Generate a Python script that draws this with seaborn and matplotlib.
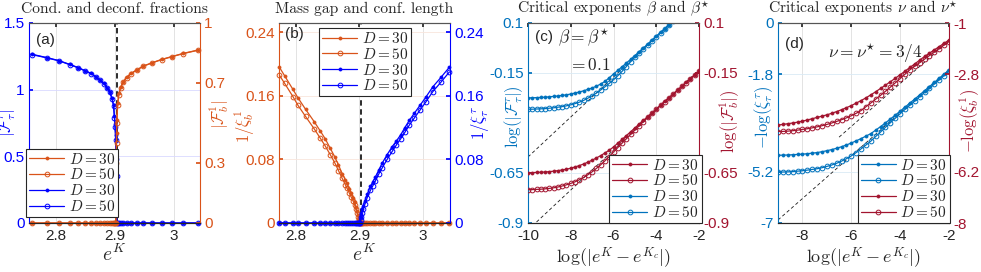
import matplotlib
matplotlib.use("Agg")
import matplotlib.pyplot as plt
import seaborn as sns

# ---------------- panel (a): order parameters vs e^K ----------------
EK_A = [2.760, 2.785, 2.805, 2.823, 2.838, 2.849, 2.859, 2.867, 2.874, 2.881,
        2.887, 2.891, 2.895, 2.8975, 2.899, 2.900, 2.901, 2.9015,
        2.9025, 2.903, 2.9045, 2.9065, 2.9095, 2.914, 2.9195, 2.927, 2.9365,
        2.948, 2.962, 2.979, 2.996, 3.0155, 3.041]
FTAU_A_D30 = [1.265, 1.240, 1.218, 1.190, 1.165, 1.143, 1.123, 1.098, 1.073, 1.048,
              1.015, 0.985, 0.935, 0.885, 0.800, 0.740, 0.660, 0.550,
              0, 0, 0, 0, 0, 0, 0, 0, 0, 0, 0, 0, 0, 0, 0]
FTAU_A_D50 = [1.262, 1.238, 1.216, 1.188, 1.163, 1.141, 1.121, 1.096, 1.071, 1.046,
              1.012, 0.982, 0.930, 0.878, 0.790, 0.720, 0.620, 0.480,
              0.350, 0, 0, 0, 0, 0, 0, 0, 0, 0, 0, 0, 0, 0, 0]
FB_A_D30 = [0, 0, 0, 0, 0, 0, 0, 0, 0, 0, 0, 0, 0, 0, 0, 0, 0, 0,
            0.450, 0.515, 0.600, 0.648, 0.680, 0.707, 0.728, 0.748, 0.765,
            0.785, 0.800, 0.818, 0.832, 0.848, 0.865]
FB_A_D50 = [0, 0, 0, 0, 0, 0, 0, 0, 0, 0, 0, 0, 0, 0, 0, 0, 0, 0.300,
            0.400, 0.500, 0.590, 0.642, 0.676, 0.704, 0.726, 0.746, 0.764,
            0.784, 0.800, 0.817, 0.831, 0.847, 0.864]

# ---------------- panel (b): inverse lengths vs e^K ----------------
EK_B = [2.7735, 2.782, 2.795, 2.803, 2.815, 2.829, 2.838, 2.846, 2.854, 2.861,
        2.867, 2.873, 2.878, 2.8805, 2.884, 2.887, 2.890, 2.8925, 2.8945, 2.8965,
        2.898, 2.899, 2.900, 2.901,
        2.902, 2.903, 2.9045, 2.9065, 2.909, 2.9125, 2.9175, 2.9215, 2.9255, 2.931,
        2.936, 2.944, 2.952, 2.9585, 2.9655, 2.972, 2.979, 2.987, 2.996, 3.005,
        3.016, 3.029, 3.0425]
ZEROS_R = [0] * 23
ZEROS_L = [0] * 24
INVXI_B_D30 = [0.196, 0.185, 0.168, 0.1574, 0.143, 0.127, 0.116, 0.106, 0.094, 0.0835,
               0.073, 0.062, 0.054, 0.050, 0.043, 0.0376, 0.032, 0.027, 0.020, 0.0145,
               0.010, 0.006, 0.003, 0.001] + ZEROS_R
INVXI_B_D50 = [0.186, 0.1755, 0.159, 0.148, 0.134, 0.118, 0.107, 0.097, 0.086, 0.076,
               0.066, 0.056, 0.048, 0.044, 0.038, 0.033, 0.028, 0.023, 0.017, 0.012,
               0.008, 0.005, 0.002, 0.0005] + ZEROS_R
INVXI_T_D30 = ZEROS_L + [0.007, 0.011, 0.017, 0.022, 0.028, 0.036, 0.046, 0.052, 0.058,
                         0.067, 0.075, 0.086, 0.096, 0.103, 0.111, 0.120, 0.129, 0.138,
                         0.148, 0.158, 0.171, 0.183, 0.196]
INVXI_T_D50 = ZEROS_L + [0.004, 0.008, 0.013, 0.018, 0.024, 0.032, 0.041, 0.047, 0.053,
                         0.062, 0.069, 0.080, 0.090, 0.098, 0.106, 0.114, 0.123, 0.132,
                         0.142, 0.152, 0.165, 0.177, 0.190]

# ---------------- panel (c): log order parameters ----------------
LOGD_C = [-10.0, -9.8, -9.6, -9.4, -9.2, -9.0, -8.8, -8.6, -8.4, -8.2,
          -8.0, -7.8, -7.6, -7.4, -7.2, -7.0, -6.8, -6.6, -6.4, -6.2,
          -6.0, -5.8, -5.6, -5.4, -5.2, -5.0, -4.8, -4.6, -4.4, -4.2,
          -4.0, -3.8, -3.6, -3.4, -3.2, -3.0, -2.8, -2.6, -2.4, -2.2, -2.0]
LOGF_TAU_D30 = [-0.274, -0.274, -0.273, -0.272, -0.271, -0.269, -0.267, -0.265, -0.262, -0.259,
                -0.255, -0.250, -0.245, -0.239, -0.232, -0.225, -0.216, -0.205, -0.192, -0.174,
                -0.155, -0.137, -0.119, -0.100, -0.082, -0.063, -0.044, -0.025, -0.006, 0.014,
                0.033, 0.053, 0.072, 0.092, 0.112, 0.132, 0.152, 0.172, 0.192, 0.212, 0.232]
LOGF_TAU_D50 = [-0.331, -0.331, -0.330, -0.329, -0.328, -0.326, -0.324, -0.321, -0.318, -0.314,
                -0.309, -0.303, -0.296, -0.287, -0.276, -0.264, -0.250, -0.235, -0.219, -0.202,
                -0.184, -0.164, -0.142, -0.118, -0.094, -0.071, -0.049, -0.028, -0.008, 0.012,
                0.032, 0.052, 0.071, 0.091, 0.111, 0.131, 0.151, 0.171, 0.191, 0.211, 0.231]
LOGF_B_D30 = [-0.648, -0.648, -0.647, -0.646, -0.645, -0.643, -0.641, -0.638, -0.635, -0.631,
              -0.626, -0.620, -0.613, -0.605, -0.596, -0.586, -0.575, -0.563, -0.550, -0.536,
              -0.520, -0.501, -0.482, -0.463, -0.444, -0.425, -0.406, -0.387, -0.368, -0.349,
              -0.330, -0.311, -0.292, -0.273, -0.254, -0.235, -0.216, -0.197, -0.178, -0.159, -0.140]
LOGF_B_D50 = [-0.733, -0.733, -0.732, -0.731, -0.729, -0.727, -0.724, -0.720, -0.715, -0.709,
              -0.702, -0.694, -0.684, -0.672, -0.659, -0.644, -0.627, -0.609, -0.589, -0.568,
              -0.545, -0.523, -0.501, -0.479, -0.457, -0.435, -0.414, -0.393, -0.372, -0.352,
              -0.332, -0.312, -0.293, -0.274, -0.255, -0.236, -0.217, -0.198, -0.179, -0.160, -0.141]

# ---------------- panel (d): log correlation lengths ----------------
LOGD_D = [-9.0, -8.8, -8.6, -8.4, -8.2, -8.0, -7.8, -7.6, -7.4, -7.2,
          -7.0, -6.8, -6.6, -6.4, -6.2, -6.0, -5.8, -5.6, -5.4, -5.2,
          -5.0, -4.8, -4.6, -4.4, -4.2, -4.0, -3.8, -3.6, -3.4, -3.2,
          -3.0, -2.8, -2.6, -2.4, -2.2, -2.0]
MLOGXI_TAU_D30 = [-4.630, -4.625, -4.620, -4.610, -4.600, -4.590, -4.575, -4.555, -4.535, -4.505,
                  -4.470, -4.430, -4.385, -4.330, -4.270, -4.200, -4.125, -4.045, -3.960, -3.870,
                  -3.750, -3.625, -3.495, -3.360, -3.225, -3.085, -2.945, -2.800, -2.660, -2.515,
                  -2.370, -2.225, -2.080, -1.935, -1.790, -1.645]
MLOGXI_TAU_D50 = [-5.220, -5.215, -5.210, -5.200, -5.185, -5.170, -5.150, -5.125, -5.100, -5.065,
                  -5.020, -4.970, -4.910, -4.835, -4.750, -4.650, -4.535, -4.405, -4.270, -4.135,
                  -3.970, -3.815, -3.650, -3.490, -3.335, -3.175, -3.025, -2.875, -2.730, -2.580,
                  -2.430, -2.285, -2.135, -1.990, -1.840, -1.695]
MLOGXI_B_D30 = [-4.570, -4.550, -4.525, -4.500, -4.470, -4.435, -4.395, -4.350, -4.305, -4.260,
                -4.215, -4.160, -4.100, -4.035, -3.965, -3.890, -3.805, -3.715, -3.620, -3.515,
                -3.405, -3.290, -3.175, -3.055, -2.935, -2.810, -2.685, -2.555, -2.430, -2.300,
                -2.170, -2.055, -1.940, -1.825, -1.710, -1.595]
MLOGXI_B_D50 = [-4.800, -4.795, -4.785, -4.770, -4.750, -4.725, -4.700, -4.670, -4.635, -4.595,
                -4.550, -4.500, -4.445, -4.385, -4.320, -4.245, -4.160, -4.065, -3.930, -3.800,
                -3.665, -3.530, -3.390, -3.245, -3.095, -2.945, -2.790, -2.635, -2.510, -2.390,
                -2.265, -2.140, -2.020, -1.895, -1.770, -1.650]

# critical point and fitted exponents (guide lines)
EK_C = 2.9025
BETA = 0.1
NU = 0.75
GUIDE_C = {"tau": (-10.0, 0.43), "b": (-10.0, 0.065)}   # (x start, intercept)
GUIDE_D = {"tau": (-9.0, -0.145), "b": (-6.5, -0.12)}

LABELS = ["$D=30$", "$D=50$"]

BLUE = "#0000ff"
ORANGE = "#D95319"
MBLUE = "#0072BD"
MRED = "#A2142F"
DARK = "#262626"


def light(c, f=0.85):
    r, g, b = matplotlib.colors.to_rgb(c)
    return (r + (1 - r) * f, g + (1 - g) * f, b + (1 - b) * f)


def series(ax, x, y, color, d50, clip=True):
    kw = dict(color=color, lw=0.9, estimator=None, sort=False, ax=ax)
    if d50:
        kw.update(marker="o", markersize=3.4, markerfacecolor="none",
                  markeredgecolor=color, markeredgewidth=0.7)
    else:
        kw.update(marker=".", markersize=4.5, markerfacecolor=color,
                  markeredgecolor=color, markeredgewidth=0.5)
    sns.lineplot(x=x, y=y, **kw)
    ln = ax.lines[-1]
    ln.set_clip_on(clip)
    return ln


def style_axes(ax, ax2, lcol, rcol, xlim, xt, xtl, ylim, yt, ytl, ylim2, yt2, ytl2):
    ax.set_xlim(*xlim)
    ax.set_ylim(*ylim)
    ax2.set_ylim(*ylim2)
    ax.set_xticks(xt, xtl)
    ax.set_yticks(yt, ytl)
    ax2.set_yticks(yt2, ytl2)
    ax.tick_params(axis="x", colors=DARK, direction="in", length=3, labelsize=11, pad=4,
                   top=True)
    ax.tick_params(axis="y", colors=lcol, direction="in", length=3, labelsize=11, pad=3)
    ax2.tick_params(axis="y", colors=rcol, direction="in", length=3, labelsize=11, pad=3)
    ax.xaxis.grid(True, color="#dedede", lw=0.6)
    ax.yaxis.grid(True, color=light(lcol), lw=0.6)
    ax.set_axisbelow(True)
    for a in (ax, ax2):
        a.spines["top"].set_color("#555555")
        a.spines["bottom"].set_color(DARK)
        for s in a.spines.values():
            s.set_linewidth(0.8)
    ax.spines["right"].set_visible(False)
    ax2.spines["left"].set_visible(False)
    ax.spines["left"].set_color(lcol)
    ax2.spines["right"].set_color(rcol)
    ax2.spines["right"].set_visible(True)
    ax.set_xlabel("")
    ax.set_ylabel("")
    ax2.set_ylabel("")


def add_legend(ax2, handles, loc, anchor):
    leg = ax2.legend(handles, [h.get_label() for h in handles], loc=loc,
                     bbox_to_anchor=anchor, fontsize=11, handlelength=2.3,
                     handletextpad=0.3, borderpad=0.2, labelspacing=0.05,
                     borderaxespad=0, fancybox=False, framealpha=1)
    leg.get_frame().set_edgecolor(DARK)
    leg.get_frame().set_linewidth(0.8)
    leg.set_zorder(10)


def ylabels(ax, ax2, ltxt, lcol, lx, ly, rtxt, rcol, rx, ry):
    # lx: right edge of left label, rx: left edge of right label (axes fraction)
    ax.set_ylabel(ltxt, color=lcol, fontsize=12)
    ax.yaxis.set_label_coords(lx, ly)
    ax2.set_ylabel(rtxt, color=rcol, fontsize=12, rotation=90)
    ax2.yaxis.set_label_coords(rx, ry)


sns.set_theme(style="white")
plt.rcParams["font.family"] = ["Liberation Sans", "DejaVu Sans"]
plt.rcParams["mathtext.fontset"] = "cm"

fig = plt.figure(figsize=(9.81, 2.72), dpi=100)
W, H = 981.0, 272.0


def make_axes(left_px):
    ax = fig.add_axes([left_px / W, 49 / H, 171 / W, 200 / H])
    ax2 = ax.twinx()
    return ax, ax2


TITLE_KW = dict(fontsize=11.2, fontfamily="cmr10", pad=6.9)

# ---- (a) ----
ax, ax2 = make_axes(29)
ax.axvline(EK_C, color="k", ls="--", lw=1.3, dashes=(3, 2))
h3 = series(ax, EK_A, FTAU_A_D30, BLUE, False, clip=False)
h4 = series(ax, EK_A, FTAU_A_D50, BLUE, True, clip=False)
h1 = series(ax2, EK_A, FB_A_D30, ORANGE, False, clip=False)
h2 = series(ax2, EK_A, FB_A_D50, ORANGE, True, clip=False)
for h, lab in zip([h1, h2, h3, h4], LABELS * 2):
    h.set_label(lab)
style_axes(ax, ax2, BLUE, ORANGE, (2.7542, 3.044), [2.8, 2.9, 3.0], ["2.8", "2.9", "3"],
           (0, 1.5), [0, 0.5, 1, 1.5], ["0", "0.5", "1", "1.5"],
           (0, 1), [0, 0.3, 0.7, 1], ["0", "0.3", "0.7", "1"])
ylabels(ax, ax2, r"$|\mathcal{F}^\tau_\tau|$", BLUE, -0.062, 0.50,
        r"$|\mathcal{F}^1_b|$", ORANGE, 1.041, 0.54)
ax.set_xlabel(r"$e^K$", fontsize=14)
ax.xaxis.set_label_coords(0.5, -0.105)
ax2.set_title("Cond. and deconf. fractions", **TITLE_KW)
ax2.text(0.04, 0.915, "(a)", transform=ax2.transAxes, fontsize=11, va="center", color=DARK)
add_legend(ax2, [h1, h2, h3, h4], "lower left", (-0.018, 0.03))

# ---- (b) ----
ax, ax2 = make_axes(279)
ax.axvline(EK_C, color="k", ls="--", lw=1.3, dashes=(3, 2))
h1 = series(ax, EK_B, INVXI_B_D30, ORANGE, False, clip=False)
h2 = series(ax, EK_B, INVXI_B_D50, ORANGE, True, clip=False)
h3 = series(ax2, EK_B, INVXI_T_D30, BLUE, False, clip=False)
h4 = series(ax2, EK_B, INVXI_T_D50, BLUE, True, clip=False)
for h, lab in zip([h1, h2, h3, h4], LABELS * 2):
    h.set_label(lab)
yt = [0, 0.08, 0.16, 0.24]
ytl = ["0", "0.08", "0.16", "0.24"]
style_axes(ax, ax2, ORANGE, BLUE, (2.773, 3.0434), [2.8, 2.9, 3.0], ["2.8", "2.9", "3"],
           (0, 0.2515), yt, ytl, (0, 0.2515), yt, ytl)
ylabels(ax, ax2, r"$1/\xi^1_b$", ORANGE, -0.129, 0.485,
        r"$1/\xi^\tau_\tau$", BLUE, 1.111, 0.50)
ax.set_xlabel(r"$e^K$", fontsize=14)
ax.xaxis.set_label_coords(0.5, -0.105)
ax2.set_title("Mass gap and conf. length", **TITLE_KW)
ax2.text(0.035, 0.945, "(b)", transform=ax2.transAxes, fontsize=11, va="center", color=DARK)
add_legend(ax2, [h1, h2, h3, h4], "upper left", (0.234, 0.975))

# ---- (c) ----
ax, ax2 = make_axes(528)
for key, (x0, c0) in GUIDE_C.items():
    ax.plot([x0, -2.0], [BETA * x0 + c0, BETA * -2.0 + c0], color="k", lw=0.6,
            ls="--", dashes=(4, 3))
h3 = series(ax, LOGD_C, LOGF_TAU_D30, MBLUE, False)
h4 = series(ax, LOGD_C, LOGF_TAU_D50, MBLUE, True)
h1 = series(ax2, LOGD_C, LOGF_B_D30, MRED, False)
h2 = series(ax2, LOGD_C, LOGF_B_D50, MRED, True)
for h, lab in zip([h1, h2, h3, h4], LABELS * 2):
    h.set_label(lab)
yt = [-0.9, -0.65, -0.15, 0.1]
ytl = ["-0.9", "-0.65", "-0.15", "0.1"]
style_axes(ax, ax2, MBLUE, MRED, (-10, -2), [-10, -8, -6, -4, -2],
           ["-10", "-8", "-6", "-4", "-2"], (-0.9, 0.1), yt, ytl, (-0.9, 0.1), yt, ytl)
ylabels(ax, ax2, r"$\log(|\mathcal{F}^\tau_\tau|)$", MBLUE, -0.018, 0.53,
        r"$\log(|\mathcal{F}^1_b|)$", MRED, 1.111, 0.51)
ax.set_xlabel(r"$\log(|e^K-e^{K_c}|)$", fontsize=13)
ax.xaxis.set_label_coords(0.5, -0.115)
ax2.set_title(r"Critical exponents $\beta$ and $\beta^{\star}$", **TITLE_KW)
ax2.text(0.04, 0.93, "(c)", transform=ax2.transAxes, fontsize=11, va="center", color=DARK)
ax2.text(0.175, 0.93, r"$\beta=\beta^{\star}$", transform=ax2.transAxes, fontsize=12.5,
         va="center", color=DARK)
ax2.text(0.234, 0.79, r"$=0.1$", transform=ax2.transAxes, fontsize=12.5,
         va="center", color=DARK)
add_legend(ax2, [h1, h2, h3, h4], "lower right", (1.016, 0.0))

# ---- (d) ----
ax, ax2 = make_axes(778)
x0, c0 = GUIDE_D["tau"]
ax.plot([x0, -2.0], [NU * x0 + c0, NU * -2.0 + c0], color="k", lw=0.6, ls="--", dashes=(4, 3))
x0, c0 = GUIDE_D["b"]
ax2.plot([x0, -2.0], [NU * x0 + c0, NU * -2.0 + c0], color="k", lw=0.6, ls="--", dashes=(4, 3))
h1 = series(ax, LOGD_D, MLOGXI_TAU_D30, MBLUE, False)
h2 = series(ax, LOGD_D, MLOGXI_TAU_D50, MBLUE, True)
h3 = series(ax2, LOGD_D, MLOGXI_B_D30, MRED, False)
h4 = series(ax2, LOGD_D, MLOGXI_B_D50, MRED, True)
for h, lab in zip([h1, h2, h3, h4], LABELS * 2):
    h.set_label(lab)
style_axes(ax, ax2, MBLUE, MRED, (-9, -2), [-8, -6, -4, -2], ["-8", "-6", "-4", "-2"],
           (-7, 0), [-7, -5.2, -1.8, 0], ["-7", "-5.2", "-1.8", "0"],
           (-8, -1), [-8, -6.2, -2.8, -1], ["-8", "-6.2", "-2.8", "-1"])
ylabels(ax, ax2, r"$-\log(\xi^\tau_\tau)$", MBLUE, -0.018, 0.53,
        r"$-\log(\xi^1_b)$", MRED, 1.05, 0.51)
ax.set_xlabel(r"$\log(|e^K-e^{K_c}|)$", fontsize=13)
ax.xaxis.set_label_coords(0.5, -0.115)
ax2.set_title(r"Critical exponents $\nu$ and $\nu^{\star}$", **TITLE_KW)
ax2.text(0.04, 0.895, "(d)", transform=ax2.transAxes, fontsize=11, va="center", color=DARK)
ax2.text(0.29, 0.85, r"$\nu=\nu^{\star}=3/4$", transform=ax2.transAxes, fontsize=12.5,
         va="center", color=DARK)
add_legend(ax2, [h1, h2, h3, h4], "lower right", (1.006, 0.0))

fig.savefig("out.png", dpi=100)
